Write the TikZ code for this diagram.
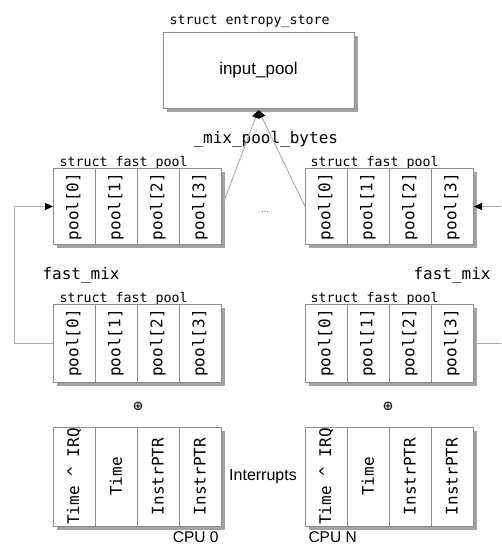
\documentclass[tikz,border=0pt]{standalone}
\usepackage{fontspec}
\setmainfont{Liberation Sans}
\newfontfamily\monofam{DejaVu Sans Mono}
\newfontfamily\symfam{DejaVu Sans}
\usetikzlibrary{arrows.meta}

\definecolor{edge}{HTML}{8C8C8C}
\definecolor{wire}{HTML}{ABABAB}
\definecolor{shade}{HTML}{A3A3A3}

\tikzset{
  mono/.style={font=\monofam\fontsize{#1}{#1}\selectfont},
  sans/.style={font=\fontsize{#1}{#1}\selectfont},
  grp/.style={draw=edge, line width=1pt, fill=white, inner sep=0pt,
    preaction={fill=shade, transform canvas={shift={(3.5pt,-3.5pt)}}}},
  cell/.style={draw=edge, line width=1pt, inner sep=0pt, minimum height=42pt,
    rotate=90, mono=16},
  conn/.style={draw=wire, line width=0.9pt,
    -{Triangle[length=8pt,width=7pt,color=black]}},
  xor/.style={font=\symfam\bfseries\fontsize{13}{13}\selectfont, text=black!85},
}

% a struct box split into four upright cells
\newcommand\fourcells[8]{%
  \node[grp, minimum width=168pt, minimum height=#4, anchor=west] (#1) at (#2,#3) {};
  \foreach \k/\t in {0/#5,1/#6,2/#7,3/#8}
    \node[cell, minimum width=#4] (#1\k) at ([xshift={21+42*\k}]#1.west) {\t};
}

\begin{document}
\begin{tikzpicture}[x=1pt, y=-1pt]
  \clip (0,0) rectangle (501,546);
  \fill[white] (0,0) rectangle (501,546);

  % entropy store
  \node[mono=13.3, anchor=base west] (storelbl) at (166,24.5) {struct entropy\_store};
  \node[grp, minimum width=191pt, minimum height=76pt, sans=17] (store) at (258.5,70) {input\_pool};
  \coordinate (sink) at (258.5,110);
  \node[mono=16, anchor=base west] (mixlbl) at (190,143.5) {\_mix\_pool\_bytes};

  % per-CPU fast pools
  \node[mono=13.3, anchor=base west] (ullbl) at (56,166) {struct fast\_pool};
  \node[mono=13.3, anchor=base west] (urlbl) at (307,166) {struct fast\_pool};
  \fourcells{ul}{53}{206.5}{76pt}{pool[0]}{pool[1]}{pool[2]}{pool[3]}
  \fourcells{ur}{305}{206.5}{76pt}{pool[0]}{pool[1]}{pool[2]}{pool[3]}
  \node[font=\fontsize{9}{9}\selectfont, text=black!70, anchor=base] (dots) at (265,212) {...};

  \node[mono=16, anchor=base west] (lmix) at (39,279) {fast\_mix};
  \node[mono=16, anchor=base west] (rmix) at (410,279) {fast\_mix};

  \node[mono=13.3, anchor=base west] (lllbl) at (56,302) {struct fast\_pool};
  \node[mono=13.3, anchor=base west] (lrlbl) at (307,302) {struct fast\_pool};
  \fourcells{ll}{53}{343}{78pt}{pool[0]}{pool[1]}{pool[2]}{pool[3]}
  \fourcells{lr}{305}{343}{78pt}{pool[0]}{pool[1]}{pool[2]}{pool[3]}

  \node[xor] (lxor) at (138,406) {⊕};
  \node[xor] (rxor) at (388,406) {⊕};

  % interrupt samples
  \fourcells{li}{53}{476.5}{99pt}{Time \textasciicircum{} IRQ}{Time}{InstrPTR}{InstrPTR}
  \fourcells{ri}{305}{476.5}{99pt}{Time \textasciicircum{} IRQ}{Time}{InstrPTR}{InstrPTR}
  \node[sans=16] (irq) at (263,477) {Interrupts};
  \node[sans=15.5, anchor=base east, inner ysep=0pt] (cpu0) at (222,542) {CPU 0};
  \node[sans=15.5, anchor=base west, inner ysep=0pt] (cpun) at (305,542) {CPU N};

  % connectors
  \draw[conn] (ul.east) -- (sink);
  \draw[conn] (ur.west) -- (sink);
  \draw[conn] (ll.west) -- ++(-39,0) |- (ul.west);
  \draw[conn] (lr.east) -- ++(40,0) |- (ur.east);
\end{tikzpicture}
\end{document}
